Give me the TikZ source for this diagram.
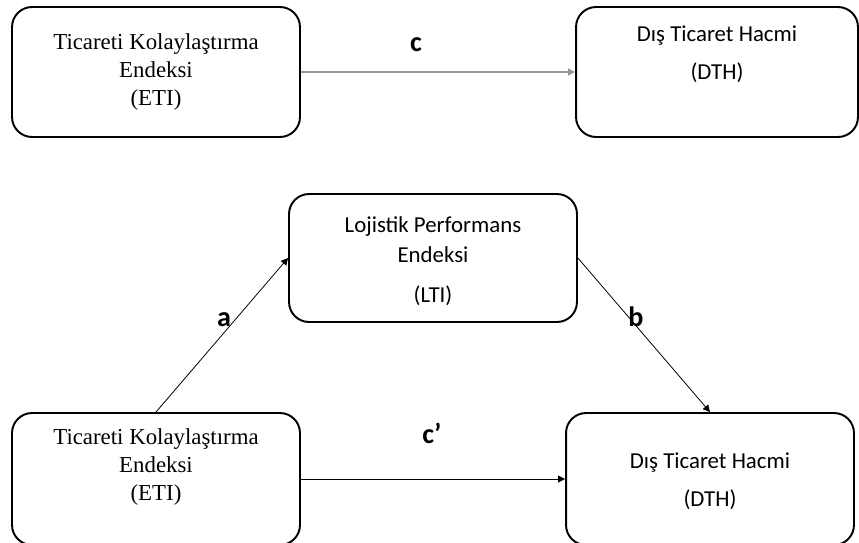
\documentclass[tikz,border=0pt]{standalone}
\usepackage{fontspec}
\setmainfont{Liberation Serif}
\newfontfamily\calibri{Carlito}
\usetikzlibrary{positioning,arrows.meta}
\definecolor{okgri}{RGB}{150,150,150}

\begin{document}
\begin{tikzpicture}[x=0.02cm, y=-0.02cm, >={Triangle[length=4pt,width=4pt]},
    kutu/.style={draw, line width=1.1pt, rounded corners=0.4cm, minimum height=2.6cm},
    serifyazi/.style={align=center, font=\fontsize{13}{16}\selectfont},
    sansyazi/.style={align=center, font=\calibri\fontsize{13}{16}\selectfont},
    harf/.style={font=\calibri\bfseries\fontsize{16}{18}\selectfont},
    ok/.style={->, line width=0.45pt}]

    \useasboundingbox (0,0) rectangle (859,542);
    \clip (0,0) rectangle (859,542);

    % ═══════════════════════════════════════════════════════════════════════════
    % TOPLAM ETKI
    % ═══════════════════════════════════════════════════════════════════════════

    \node[kutu, minimum width=5.76cm] (eti1) at (156,72) {};
    \node[serifyazi] (eti1yazi) at (156,72) {Ticareti Kolaylaştırma\\Endeksi\\(ETI)};

    \node[kutu, minimum width=5.64cm] (dth1) at (717,72) {};
    \node[sansyazi] (dth1yazi) at (717,54) {Dış Ticaret Hacmi\\[5.5pt](DTH)};

    \draw[ok, okgri, line width=0.8pt] (eti1.east) -- (dth1.west);
    \node[harf] (c) at (416,45) {c};

    % ═══════════════════════════════════════════════════════════════════════════
    % ARACI ETKI
    % ═══════════════════════════════════════════════════════════════════════════

    \node[kutu, minimum width=5.76cm, minimum height=2.56cm] (lti) at (433,258) {};
    \node[sansyazi] (ltiyazi) at (433,261) {Lojistik Performans\\[1pt]Endeksi\\[7pt](LTI)};

    \node[kutu, minimum width=5.76cm, minimum height=2.64cm] (eti2) at (156,479) {};
    \node[serifyazi] (eti2yazi) at (156,467) {Ticareti Kolaylaştırma\\Endeksi\\(ETI)};

    \node[kutu, minimum width=5.76cm, minimum height=2.64cm] (dth2) at (710,479) {};
    \node[sansyazi] (dth2yazi) at (710,481) {Dış Ticaret Hacmi\\[5.5pt](DTH)};

    % Oklar
    \draw[ok] (eti2.north) -- (lti.west);
    \draw[ok] (lti.east) -- (dth2.north);
    \draw[ok] (eti2.east) -- (dth2.west);

    \node[harf] (a) at (224,320) {a};
    \node[harf] (b) at (636,317) {b};
    \node[harf] (cc) at (432,433) {c’};

\end{tikzpicture}
\end{document}
